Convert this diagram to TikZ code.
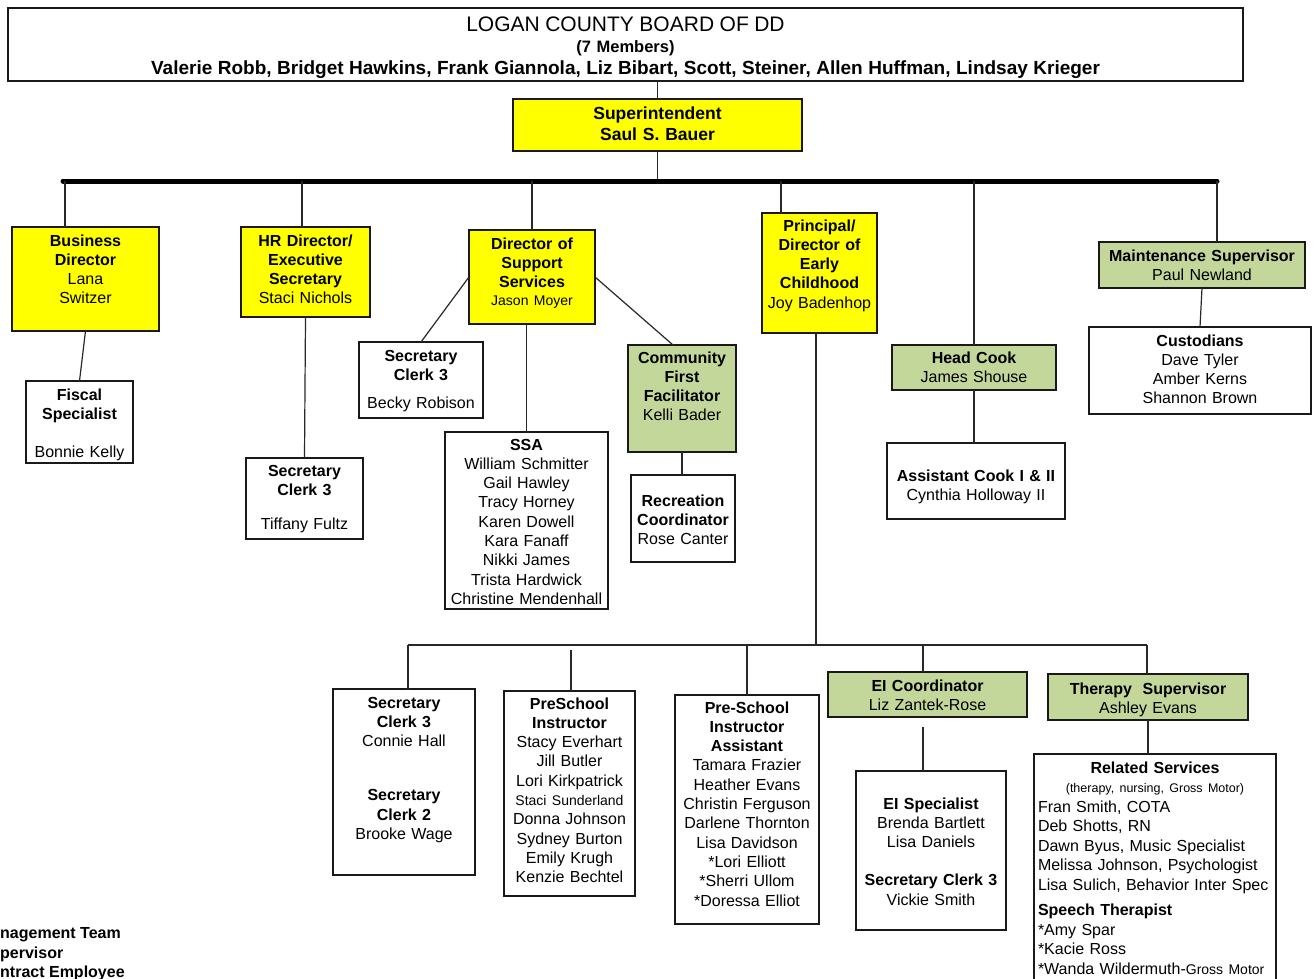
\documentclass[tikz,border=0pt]{standalone}
\usepackage{fontspec}
\setmainfont{Liberation Sans}
\definecolor{grn}{RGB}{196,215,155}
\definecolor{ylw}{RGB}{255,255,0}
\definecolor{lnc}{RGB}{40,40,40}
\tikzset{
  box/.style={draw=black!90, line width=1.4pt, anchor=north, align=center,
    inner xsep=1pt, inner ysep=0pt, outer sep=0pt,
    font=\fontsize{16}{19.3}\selectfont},
  yel/.style={box, fill=ylw},
  gbox/.style={box, fill=grn},
  conn/.style={draw=lnc, line width=1.2pt},
  thickbar/.style={draw=black, line width=5pt, line cap=round},
  legend/.style={anchor=base west, inner sep=0pt, font=\fontsize{16}{19.3}\selectfont\bfseries}
}
\newcommand{\smallf}{\fontsize{14}{17}\selectfont}
\begin{document}
\begin{tikzpicture}[x=1pt,y=-1pt]
\useasboundingbox (0,0) rectangle (1314,979);
\fill[white] (0,0) rectangle (1314,979);
\clip (0,0) rectangle (1314,979);

% Board
\node[box, minimum width=1235, text width=1233, text height=23.5, text depth=49.5,
      font=\fontsize{16.5}{21.5}\selectfont] (board) at (625.5,8)
  {{\fontsize{21}{21}\selectfont LOGAN COUNTY BOARD OF DD}\\
   \textbf{(7 Members)}\\
   {\fontsize{19}{21}\selectfont\bfseries Valerie Robb, Bridget Hawkins, Frank Giannola, Liz Bibart, Scott, Steiner, Allen Huffman, Lindsay Krieger}};

% Superintendent
\node[yel, minimum width=289, text width=287, text height=20.5, text depth=31.5,
      font=\fontsize{17.5}{21}\selectfont\bfseries] (sup) at (657.5,99)
  {Superintendent\\Saul S. Bauer};

% Top level
\node[yel, minimum width=147, text width=145, text height=19, text depth=85] (bd) at (85.5,227)
  {\textbf{Business}\\\textbf{Director}\\Lana\\Switzer};
\node[box, minimum width=107, text width=105, text height=19, text depth=63] (fs) at (79.5,381)
  {\textbf{Fiscal}\\\textbf{Specialist}\\[19pt]Bonnie Kelly};

\node[yel, minimum width=129, text width=127, text height=19, text depth=71] (hr) at (305.5,227)
  {\textbf{HR Director/}\\\textbf{Executive}\\\textbf{Secretary}\\Staci Nichols};
\node[box, minimum width=117, text width=115, text height=18, text depth=63] (tf) at (304.5,458)
  {\textbf{Secretary}\\\textbf{Clerk 3}\\[15pt]Tiffany Fultz};

\node[yel, minimum width=126, text width=124, text height=19, text depth=75] (dss) at (532,230)
  {\textbf{Director of}\\\textbf{Support}\\\textbf{Services}\\[-1.5pt]{\smallf Jason Moyer}};
\node[box, minimum width=124, text width=122, text height=19, text depth=57] (sc) at (421,342)
  {\textbf{Secretary}\\\textbf{Clerk 3}\\[9pt]Becky Robison};
\node[box, minimum width=163, text width=161, text height=18, text depth=159] (ssa) at (526.5,432)
  {\textbf{SSA}\\William Schmitter\\Gail Hawley\\Tracy Horney\\Karen Dowell\\Kara Fanaff\\Nikki James\\Trista Hardwick\\Christine Mendenhall};
\node[gbox, minimum width=108, text width=106, text height=18, text depth=89] (cf) at (682,345)
  {\textbf{Community}\\\textbf{First}\\\textbf{Facilitator}\\Kelli Bader};
\node[box, minimum width=104, text width=102, text height=31, text depth=56] (rc) at (683,475)
  {\textbf{Recreation}\\\textbf{Coordinator}\\Rose Canter};

\node[yel, minimum width=115, text width=113, text height=18, text depth=102] (pr) at (819.5,213)
  {\textbf{Principal/}\\\textbf{Director of}\\\textbf{Early}\\\textbf{Childhood}\\Joy Badenhop};

\node[gbox, minimum width=164, text width=162, text height=18, text depth=27] (hc) at (974,345)
  {\textbf{Head Cook}\\James Shouse};
\node[box, minimum width=178, text width=176, text height=38, text depth=38] (ac) at (976,443)
  {\textbf{Assistant Cook I \& II}\\Cynthia Holloway II};

\node[gbox, minimum width=206, text width=204, text height=19, text depth=27] (ms) at (1202,242)
  {\textbf{Maintenance Supervisor}\\Paul Newland};
\node[box, minimum width=222, text width=220, text height=19, text depth=68] (cu) at (1200,327)
  {\textbf{Custodians}\\Dave Tyler\\Amber Kerns\\Shannon Brown};

% Early childhood level
\node[box, minimum width=142, text width=140, text height=19, text depth=167] (s2) at (404,689)
  {\textbf{Secretary}\\\textbf{Clerk 3}\\Connie Hall\\[35pt]\textbf{Secretary}\\\textbf{Clerk 2}\\Brooke Wage};
\node[box, minimum width=131, text width=129, text height=18, text depth=187] (pi) at (569.5,691)
  {\textbf{PreSchool}\\\textbf{Instructor}\\Stacy Everhart\\Jill Butler\\Lori Kirkpatrick\\{\smallf Staci Sunderland}\\Donna Johnson\\Sydney Burton\\Emily Krugh\\Kenzie Bechtel};
\node[box, minimum width=144, text width=142, text height=18, text depth=211] (pa) at (747,695)
  {\textbf{Pre-School}\\\textbf{Instructor}\\\textbf{Assistant}\\Tamara Frazier\\Heather Evans\\Christin Ferguson\\Darlene Thornton\\Lisa Davidson\\{}*Lori Elliott\\{}*Sherri Ullom\\{}*Doressa Elliot};
\node[gbox, minimum width=199, text width=197, text height=19, text depth=26] (ei) at (927.5,672)
  {\textbf{EI Coordinator}\\Liz Zantek-Rose};
\node[box, minimum width=150, text width=148, text height=38, text depth=121] (es) at (931,771)
  {\textbf{EI Specialist}\\Brenda Bartlett\\Lisa Daniels\\[19pt]\textbf{Secretary Clerk 3}\\Vickie Smith};
\node[gbox, minimum width=200, text width=198, text height=20, text depth=26] (ts) at (1148,674)
  {\textbf{Therapy\ \ Supervisor}\\Ashley Evans};
\node[box, align=left, inner xsep=4pt, minimum width=242, text width=234, text height=19, text depth=222,
      font=\fontsize{16}{19.5}\selectfont] (rs) at (1155,754)
  {\makebox[234pt][c]{\textbf{Related Services}}\\
   \makebox[234pt][c]{\fontsize{12.5}{14}\selectfont (therapy, nursing, Gross Motor)}\\
   Fran Smith, COTA\\Deb Shotts, RN\\Dawn Byus, Music Specialist\\Melissa Johnson, Psychologist\\Lisa Sulich, Behavior Inter Spec\\[6pt]
   \textbf{Speech Therapist}\\{}*Amy Spar\\{}*Kacie Ross\\{}*Wanda Wildermuth-{\smallf Gross Motor}};

% Legend (cut off at the left edge)
\node[legend] (lg1) at (0,938) {nagement Team};
\node[legend] (lg2) at (0,958) {pervisor};
\node[legend] (lg3) at (0,977) {ntract Employee};

% Coordinates
\coordinate (barL) at (63,181);
\coordinate (barR) at (1217,181);
\coordinate (d1) at (65,181);
\coordinate (d2) at (302,181);
\coordinate (d3) at (532,181);
\coordinate (d4) at (781,181);
\coordinate (d5) at (974,181);
\coordinate (d6) at (1217,181);
\coordinate (pb) at (816,645);
\coordinate (busL) at (408,645);
\coordinate (busR) at (1147,645);
\coordinate (c2) at (571,650);
\coordinate (c3) at (747,645);
\coordinate (c4) at (923,645);
\coordinate (eg) at (923,727);

% Connectors
\draw[conn] (sup.north |- board.south) -- (sup.north);
\draw[conn] (sup.south) -- (sup.south |- barL);
\draw[thickbar] (barL) -- (barR);
\draw[conn] (d1) -- (d1 |- bd.north);
\draw[conn] (d2) -- (d2 |- hr.north);
\draw[conn] (d3) -- (d3 |- dss.north);
\draw[conn] (d4) -- (d4 |- pr.north);
\draw[conn] (d5) -- (d5 |- hc.north);
\draw[conn] (d6) -- (d6 |- ms.north);

\draw[conn] (bd.south) -- (fs.north);
\draw[conn] (hr.south) -- (tf.north);
\draw[conn] (dss.west) -- (sc.north);
\draw[conn] (ssa.north |- dss.south) -- (ssa.north);
\draw[conn] (dss.east) -- ([xshift=-9pt]cf.north);
\draw[conn] (cf.south) -- (cf.south |- rc.north);
\draw[conn] (hc.south) -- (hc.south |- ac.north);
\draw[conn] (ms.south) -- (cu.north);

\draw[conn] (pb |- pr.south) -- (pb);
\draw[conn] (busL) -- (busR);
\draw[conn] (busL) -- (busL |- s2.north);
\draw[conn] (c2) -- (c2 |- pi.north);
\draw[conn] (c3) -- (c3 |- pa.north);
\draw[conn] (c4) -- (c4 |- ei.north);
\draw[conn] (busR) -- (busR |- ts.north);
\draw[conn] (eg) -- (eg |- es.north);
\draw[conn] (ts.south) -- (ts.south |- rs.north);
\end{tikzpicture}
\end{document}
